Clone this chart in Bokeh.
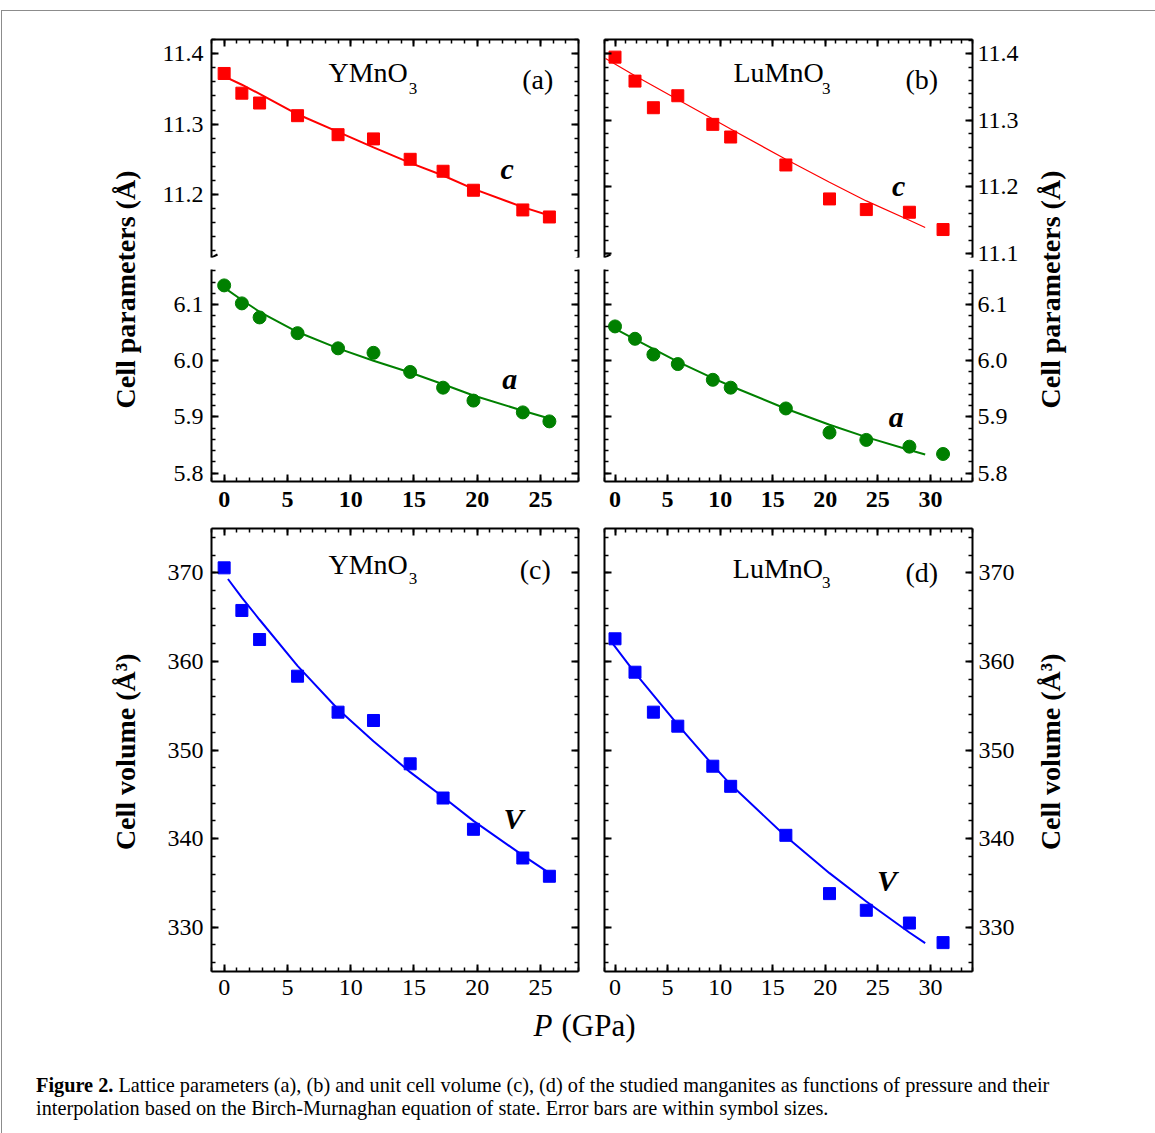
from math import pi
from bokeh.plotting import figure
from bokeh.layouts import row, column
from bokeh.models import (LinearAxis, SingleIntervalTicker, PrintfTickFormatter,
                          CustomJSTickFormatter, Label, Arrow, Div, Range1d)
from bokeh.embed import file_html
from bokeh.resources import INLINE

FONT = "Liberation Serif"
RED, GREEN, BLUE = "#ff0000", "#008000", "#0000ff"

# ---------------- data ----------------
# YMnO3
P_Y = [0, 1.4, 2.8, 5.8, 9.0, 11.8, 14.7, 17.3, 19.7, 23.6, 25.7]
c_Y = [11.372, 11.344, 11.330, 11.312, 11.285, 11.279, 11.250, 11.233, 11.206, 11.178, 11.168]
a_Y = [6.134, 6.102, 6.077, 6.049, 6.022, 6.014, 5.980, 5.952, 5.929, 5.908, 5.892]
V_Y = [370.56, 365.75, 362.47, 358.33, 354.27, 353.33, 348.44, 344.58, 341.05, 337.81, 335.75]
# Birch-Murnaghan curves (as drawn)
fitP_Y = [0, 1.4, 2.8, 5.8, 9.0, 11.8, 14.7, 17.3, 19.7, 23.6, 25.7]
fit_c_Y = [11.368, 11.356, 11.343, 11.314, 11.289, 11.267, 11.245, 11.227, 11.208, 11.182, 11.170]
fit_a_Y = [6.130, 6.108, 6.087, 6.051, 6.022, 6.000, 5.979, 5.958, 5.938, 5.911, 5.897]
fitPV_Y = [0.3, 1.4, 2.8, 5.8, 9.0, 11.8, 14.7, 17.3, 19.7, 23.6, 25.7]
fit_V_Y = [369.3, 367.2, 364.7, 359.5, 354.6, 351.0, 347.5, 344.7, 342.0, 338.1, 336.1]

# LuMnO3
P_L = [0, 1.9, 3.65, 5.97, 9.3, 11.0, 16.25, 20.4, 23.9, 28.0, 31.2]
c_L = [11.395, 11.359, 11.319, 11.337, 11.294, 11.275, 11.233, 11.182, 11.166, 11.162, 11.136]
a_L = [6.061, 6.039, 6.011, 5.994, 5.966, 5.952, 5.915, 5.872, 5.859, 5.847, 5.834]
V_L = [362.55, 358.78, 354.27, 352.69, 348.17, 345.90, 340.37, 333.79, 331.91, 330.47, 328.26]
fitPc_L = [-0.9, 1.9, 6.0, 9.3, 11.0, 16.2, 20.4, 23.9, 28.0, 29.5]
fit_c_L = [11.393, 11.367, 11.331, 11.302, 11.287, 11.242, 11.207, 11.179, 11.150, 11.139]
fitPa_L = [-0.5, 1.9, 6.0, 9.3, 11.0, 16.2, 20.4, 23.9, 28.0, 29.5]
fit_a_L = [6.062, 6.038, 5.998, 5.969, 5.955, 5.915, 5.886, 5.864, 5.841, 5.833]
fitPV_L = [-0.4, 1.9, 6.0, 9.3, 11.0, 16.2, 20.4, 23.9, 28.0, 29.5]
fit_V_L = [362.3, 358.7, 352.8, 348.3, 346.1, 340.3, 336.1, 332.9, 329.4, 328.2]

# axis ranges
XR_Y = (-1, 28)
XR_L = (-1, 34)
YR_cY = (11.1104, 11.4203)
YR_cL = (11.094, 11.4215)
YR_a = (5.785, 6.1623)
YR_V = (325, 375)

TICK_FS = "24px"
FW_Y, FW_L = 367, 368
FH_U, FH_D, FH_V = 218, 212, 443


def base_fig(width, height, xr, yr, left, right, top, bottom):
    p = figure(width=width, height=height, x_range=Range1d(*xr), y_range=Range1d(*yr),
               output_backend="svg", toolbar_location=None,
               x_axis_location=None, y_axis_location=None,
               min_border_left=left, min_border_right=right,
               min_border_top=top, min_border_bottom=bottom)
    p.outline_line_color = None
    p.xgrid.grid_line_color = None
    p.ygrid.grid_line_color = None
    p.background_fill_color = "white"
    p.border_fill_color = "white"
    return p


def add_axis(p, side, interval, labels=False, bold=False, fmt="%.1f", standoff=8):
    ax = LinearAxis(ticker=SingleIntervalTicker(interval=interval, num_minor_ticks=5))
    ax.axis_line_width = 2
    ax.axis_line_color = "black"
    ax.major_tick_in = 7
    ax.major_tick_out = 0
    ax.minor_tick_in = 4
    ax.minor_tick_out = 0
    ax.major_tick_line_width = 2
    ax.minor_tick_line_width = 1.5
    if labels:
        ax.formatter = PrintfTickFormatter(format=fmt)
        ax.major_label_text_font = FONT
        ax.major_label_text_font_size = TICK_FS
        ax.major_label_text_font_style = "bold" if bold else "normal"
        ax.major_label_text_color = "black"
        ax.major_label_standoff = standoff
    else:
        ax.formatter = CustomJSTickFormatter(code="return ''")
        ax.major_label_standoff = 0
    p.add_layout(ax, side)


def add_break(p, x_edge, y_edge, fw, fh, shift_px=0):
    # a "/" mark centred on the frame corner (optionally shifted down by shift_px)
    xr = p.x_range
    yr = p.y_range
    ux = (xr.end - xr.start) / fw
    uy = (yr.end - yr.start) / fh
    yc = y_edge - shift_px * uy
    p.add_layout(Arrow(end=None, x_start=x_edge - 6 * ux, y_start=yc - 3 * uy,
                       x_end=x_edge + 6 * ux, y_end=yc + 3 * uy,
                       line_width=2, line_color="black"))


def lab(p, fh, x, y, text, size=28, style="normal"):
    # y is the text baseline; raise by a size-proportional amount to land the glyphs there
    yr = p.y_range
    y_adj = y + 0.39 * size * (yr.end - yr.start) / fh
    p.add_layout(Label(x=x, y=y_adj, text=text, text_font=FONT, text_font_size=f"{size}px",
                       text_font_style=style, text_color="black",
                       text_align="left", text_baseline="alphabetic"))


def compound(p, fh, x, y, name, xs, ys, tag, xt, yt):
    lab(p, fh, x, y, name)
    lab(p, fh, xs, ys, "3", size=17)
    lab(p, fh, xt, yt, tag)


# ---------------- panel (a) ----------------
aU = base_fig(441, 258, XR_Y, YR_cY, 61, 13, 28, 12)
add_axis(aU, "left", 0.1, labels=True, standoff=8)
add_axis(aU, "right", 0.1)
add_axis(aU, "above", 5)
aU.line(fitP_Y, fit_c_Y, line_color=RED, line_width=2)
aU.scatter(P_Y, c_Y, marker="square", size=12, color=RED)
compound(aU, FH_U, 8.24, 11.3578, "YMnO", 14.58, 11.3407, "(a)", 23.55, 11.348)
lab(aU, FH_U, 21.84, 11.2199, "c", size=30, style="bold italic")
for xe in XR_Y:
    add_break(aU, xe, YR_cY[0], FW_Y, FH_U)
    add_break(aU, xe, YR_cY[0], FW_Y, FH_U, shift_px=8.5)

aL = base_fig(441, 252, XR_Y, YR_a, 61, 13, 0, 40)
add_axis(aL, "left", 0.1, labels=True, standoff=8)
add_axis(aL, "right", 0.1)
add_axis(aL, "below", 5, labels=True, bold=True, fmt="%d", standoff=10)
aL.line(fitP_Y, fit_a_Y, line_color=GREEN, line_width=2)
aL.scatter(P_Y, a_Y, marker="circle", size=13, color=GREEN)
lab(aL, FH_D, 21.97, 5.947, "a", size=30, style="bold italic")

# ---------------- panel (b) ----------------
bU = base_fig(441, 258, XR_L, YR_cL, 13, 60, 28, 12)
add_axis(bU, "left", 0.1)
add_axis(bU, "right", 0.1, labels=True, standoff=5)
add_axis(bU, "above", 5)
bU.line(fitPc_L, fit_c_L, line_color=RED, line_width=1.2)
bU.scatter(P_L, c_L, marker="square", size=12, color=RED)
compound(bU, FH_U, 11.27, 11.355, "LuMnO", 19.69, 11.3374, "(b)", 27.62, 11.345)
lab(bU, FH_U, 26.35, 11.185, "c", size=30, style="bold italic")
for xe in XR_L:
    add_break(bU, xe, YR_cL[0], FW_L, FH_U)
    add_break(bU, xe, YR_cL[0], FW_L, FH_U, shift_px=8.5)

bL = base_fig(441, 252, XR_L, YR_a, 13, 60, 0, 40)
add_axis(bL, "left", 0.1)
add_axis(bL, "right", 0.1, labels=True, standoff=5)
add_axis(bL, "below", 5, labels=True, bold=True, fmt="%d", standoff=10)
bL.line(fitPa_L, fit_a_L, line_color=GREEN, line_width=2)
bL.scatter(P_L, a_L, marker="circle", size=13, color=GREEN)
lab(bL, FH_D, 26.03, 5.879, "a", size=30, style="bold italic")

# ---------------- panel (c) ----------------
cP = base_fig(441, 488, XR_Y, YR_V, 61, 13, 7, 38)
add_axis(cP, "left", 10, labels=True, fmt="%d", standoff=8)
add_axis(cP, "right", 10)
add_axis(cP, "above", 5)
add_axis(cP, "below", 5, labels=True, fmt="%d", standoff=8)
cP.line(fitPV_Y, fit_V_Y, line_color=BLUE, line_width=2)
cP.scatter(P_Y, V_Y, marker="square", size=12, color=BLUE)
compound(cP, FH_V, 8.24, 369.7, "YMnO", 14.58, 368.57, "(c)", 23.36, 369.13)
lab(cP, FH_V, 22.08, 340.94, "V", size=30, style="bold italic")

# ---------------- panel (d) ----------------
dP = base_fig(441, 488, XR_L, YR_V, 13, 60, 7, 38)
add_axis(dP, "left", 10)
add_axis(dP, "right", 10, labels=True, fmt="%d", standoff=6)
add_axis(dP, "above", 5)
add_axis(dP, "below", 5, labels=True, fmt="%d", standoff=8)
dP.line(fitPV_L, fit_V_L, line_color=BLUE, line_width=2)
dP.scatter(P_L, V_L, marker="square", size=12, color=BLUE)
compound(dP, FH_V, 11.2, 369.21, "LuMnO", 19.69, 368.19, "(d)", 27.62, 368.76)
lab(dP, FH_V, 24.92, 333.97, "V", size=30, style="bold italic")


# ---------------- axis titles ----------------
def title_fig(width, height, x, y, text):
    p = base_fig(width, height, (0, width), (0, height), 0, 0, 0, 0)
    p.add_layout(Label(x=x, y=y, text=text, angle=pi / 2, text_font=FONT,
                       text_font_size="28px", text_font_style="bold",
                       text_align="center", text_baseline="middle", text_color="black"))
    return p


tA = title_fig(148, 510, 123, 232, "Cell parameters (Å)")
tB = title_fig(120, 510, 18, 232, "Cell parameters (Å)")
tC = title_fig(148, 488, 123, 242, "Cell volume (Å³)")
tD = title_fig(120, 488, 18, 242, "Cell volume (Å³)")

xl = base_fig(1150, 50, (0, 1150), (0, 50), 0, 0, 0, 0)
xl.add_layout(Label(x=531, y=34, text="P", text_font=FONT, text_font_size="31px",
                    text_font_style="italic", text_color="black",
                    text_align="left", text_baseline="middle"))
xl.add_layout(Label(x=559, y=34, text="(GPa)", text_font=FONT, text_font_size="31px",
                    text_color="black", text_align="left", text_baseline="middle"))

cap = Div(width=1150, height=68, text=(
    '<div style="font-family: \'Liberation Serif\'; font-size: 20.3px; line-height: 23px; '
    'padding-left: 29px; padding-top: 10px; white-space: nowrap; color: #000;">'
    '<b>Figure 2.</b> Lattice parameters (a), (b) and unit cell volume (c), (d) of the studied '
    'manganites as functions of pressure and their<br>interpolation based on the '
    'Birch-Murnaghan equation of state. Error bars are within symbol sizes.</div>'))

layout = column(
    row(tA, column(aU, aL, spacing=0), column(bU, bL, spacing=0), tB, spacing=0),
    row(tC, cP, dP, tD, spacing=0),
    xl, cap, spacing=0,
    styles={"margin-left": "1px", "margin-top": "10px",
            "border-top": "1px solid #8c8c8c", "border-left": "1px solid #8c8c8c",
            "border-right": "1px solid #8c8c8c"})

open("out.html", "w").write(file_html(layout, INLINE))
